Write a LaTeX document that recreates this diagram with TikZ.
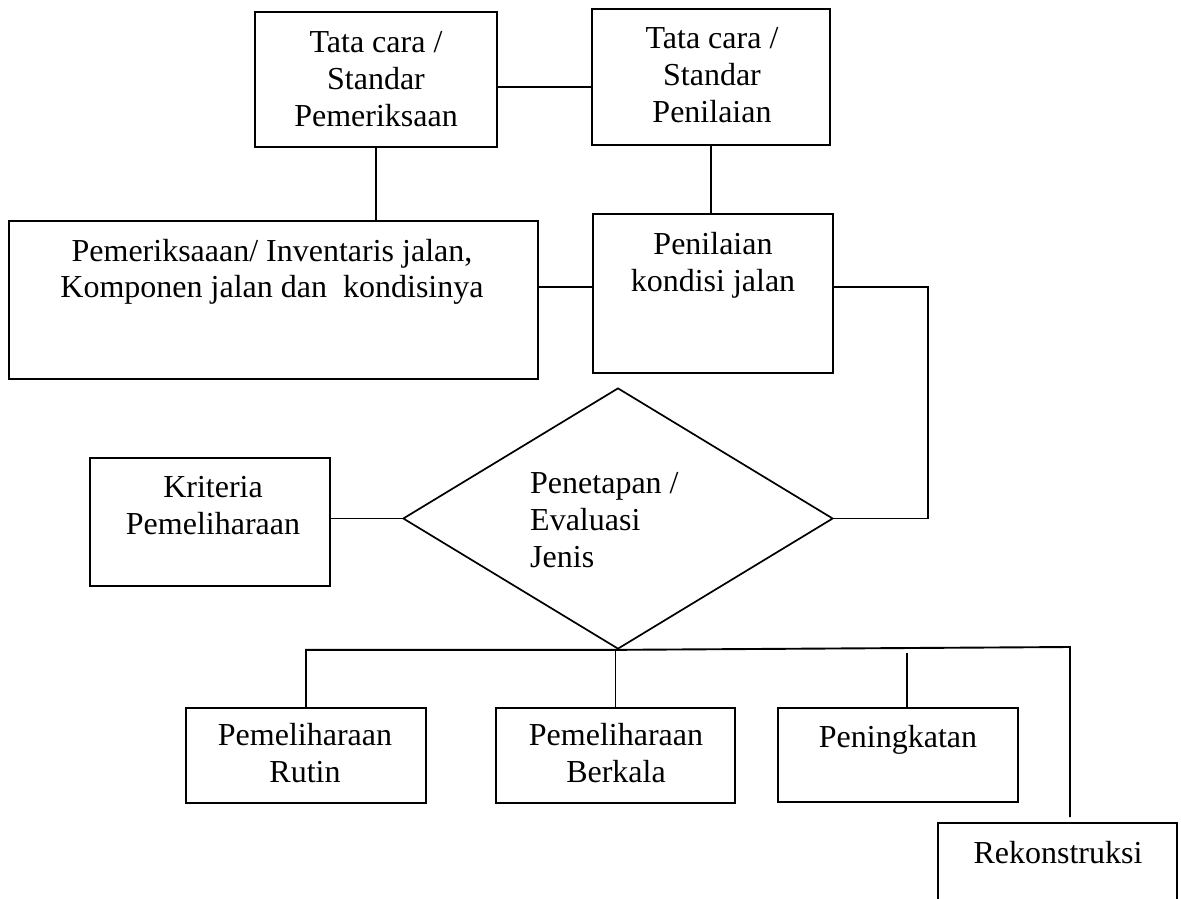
\documentclass[tikz,border=0pt]{standalone}
\usepackage{fontspec}
\setmainfont{Liberation Serif}
\usetikzlibrary{shapes.geometric}
\begin{document}
\begin{tikzpicture}[x=1pt,y=-1pt,
  boxnode/.style={draw,rectangle,inner sep=0pt,line width=2pt},
  opennode/.style={rectangle,inner sep=0pt},
  lbl/.style={inner sep=0pt,align=center,font=\fontsize{32}{37}\selectfont,anchor=base},
  conn/.style={line width=1.9pt},
  edge/.style={line width=2pt}]
\useasboundingbox (0,0) rectangle (1181,899);
% boxes
\node[boxnode,minimum width=242pt,minimum height=135pt] (A) at (376,79.5) {};
\node[boxnode,minimum width=238pt,minimum height=136pt] (B) at (711,77) {};
\node[boxnode,minimum width=529pt,minimum height=158pt] (C) at (273.5,300) {};
\node[boxnode,minimum width=240pt,minimum height=159pt] (D) at (713,293.5) {};
\node[boxnode,minimum width=240pt,minimum height=128pt] (K) at (210,522) {};
\node[draw,diamond,inner sep=0pt,line width=1.7pt,minimum width=430pt,minimum height=261pt] (dia) at (618,518.5) {};
\node[boxnode,minimum width=240pt,minimum height=95pt] (R) at (306,755.5) {};
\node[boxnode,minimum width=239pt,minimum height=95pt] (Bk) at (615.5,755.5) {};
\node[boxnode,minimum width=240pt,minimum height=94pt] (P) at (898,755) {};
\node[opennode,minimum width=239pt,minimum height=82pt] (Rek) at (1057.5,864) {};
\draw[edge] (Rek.south west) -- (Rek.north west) -- (Rek.north east) -- (Rek.south east);
% texts (base anchor = baseline of the last line)
\node[lbl] (tA) at (376,126) {Tata cara /\\Standar\\Pemeriksaan};
\node[lbl] (tB) at (712,122) {Tata cara /\\Standar\\Penilaian};
\node[lbl,font=\fontsize{32}{36}\selectfont] (tC) at (272,297) {Pemeriksaaan/ Inventaris jalan,\\Komponen jalan dan\ \ kondisinya};
\node[lbl] (tD) at (713,291) {Penilaian\\kondisi jalan};
\node[lbl] (tK) at (213,534) {Kriteria\\Pemeliharaan};
\node[lbl,align=left,anchor=base west] (tE) at (530,567) {Penetapan /\\Evaluasi\\Jenis};
\node[lbl] (tR) at (305,782) {Pemeliharaan\\Rutin};
\node[lbl] (tBk) at (616,782) {Pemeliharaan\\Berkala};
\node[lbl] (tP) at (898,747) {Peningkatan};
\node[lbl] (tRek) at (1058,863) {Rekonstruksi};
% connectors
\coordinate (jr) at (928,518.5);
\coordinate (busR) at (1070,647);
\coordinate (busRend) at (1070,817);
\coordinate (pTop) at (907,653);
\draw[conn] (A.east |- 0,87) -- (B.west |- 0,87);
\draw[conn] (A.south) -- (A.south |- C.north);
\draw[conn] (B.south) -- (B.south |- D.north);
\draw[conn] (C.east |- 0,287) -- (D.west |- 0,287);
\draw[conn] (D.east |- 0,287) -| (jr) -- (dia.east);
\draw[conn] (K.east |- dia.west) -- (dia.west);
\draw[conn] (R.north) |- (dia.south) -- (busR) -- (busRend);
\draw[conn] (dia.south -| Bk.north) -- (Bk.north);
\draw[conn] (pTop) -- (pTop |- P.north);
\end{tikzpicture}
\end{document}
